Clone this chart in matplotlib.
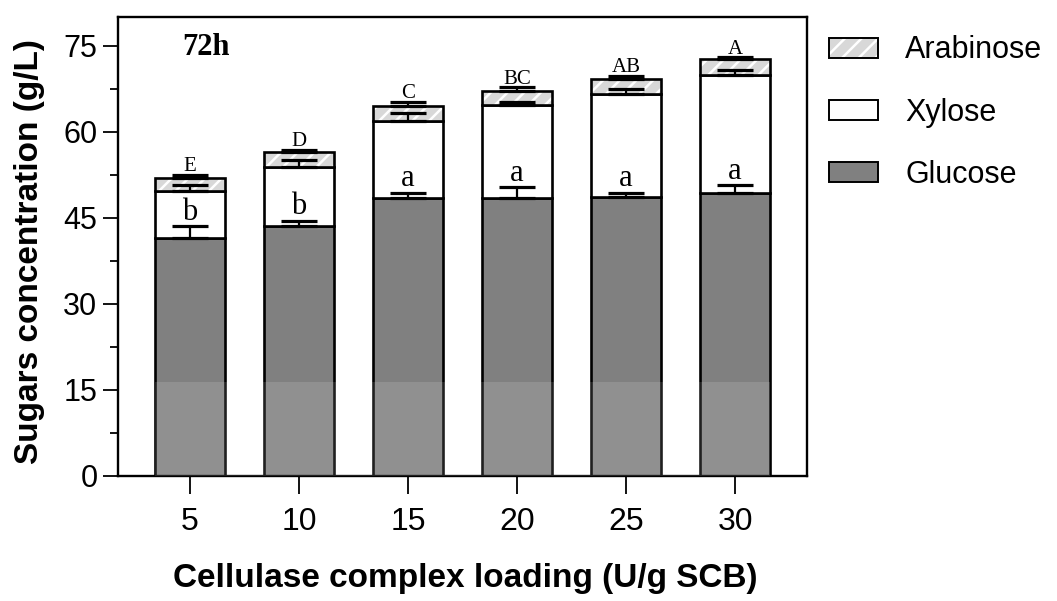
import numpy as np
import matplotlib
matplotlib.use("Agg")
import matplotlib.pyplot as plt
from matplotlib.patches import Patch, Rectangle
from matplotlib.ticker import MultipleLocator

# Cellulase loading (U/g SCB) and sugar yields at 72 h (g/L)
loadings = ["5", "10", "15", "20", "25", "30"]
glucose = [41.5, 43.6, 48.5, 48.5, 48.7, 49.4]
xylose = [8.2, 10.3, 13.4, 16.2, 17.9, 20.5]
arabinose = [2.3, 2.6, 2.6, 2.4, 2.6, 2.7]
glucose_err = [2.1, 0.9, 0.9, 1.9, 0.7, 1.3]
xylose_err = [1.0, 1.2, 1.4, 0.5, 0.9, 0.9]
arabinose_err = [0.5, 0.4, 0.7, 0.7, 0.6, 0.4]
glucose_letters = ["b", "b", "a", "a", "a", "a"]
total_letters = ["E", "D", "C", "BC", "AB", "A"]

serif = ["Liberation Serif", "DejaVu Serif"]
sans = ["Liberation Sans", "DejaVu Sans"]
plt.rcParams["font.family"] = sans
plt.rcParams["hatch.color"] = "white"
plt.rcParams["hatch.linewidth"] = 1.8

fig = plt.figure(figsize=(10.57, 6.01), dpi=100)
ax = fig.add_axes([0.1116, 0.208, 0.6519, 0.7637])

x = np.arange(len(loadings))
w = 0.64
g = np.array(glucose)
xy = np.array(xylose)
ar = np.array(arabinose)
lw = 1.9

ax.bar(x, g, w, color="#808080", edgecolor="black", linewidth=lw, zorder=2)
ax.bar(x, xy, w, bottom=g, color="white", edgecolor="black", linewidth=lw, zorder=2)
ax.bar(x, ar, w, bottom=g + xy, color="#d8d8d8", hatch="//", linewidth=0, zorder=2)
ax.bar(x, ar, w, bottom=g + xy, fill=False, edgecolor="black", linewidth=lw, zorder=2)

zeros = np.zeros(len(x))
for tops, err in [(g, glucose_err), (g + xy, xylose_err), (g + xy + ar, arabinose_err)]:
    ax.errorbar(x, tops, yerr=[zeros, err], fmt="none", ecolor="black",
                elinewidth=1.6, capsize=13, capthick=2.3, zorder=4)

for i in range(len(x)):
    ax.annotate(glucose_letters[i], (x[i], g[i] + glucose_err[i]),
                xytext=(0, 4.5), textcoords="offset points", ha="center",
                va="baseline", fontsize=22, family=serif, zorder=5)
    top = g[i] + xy[i] + ar[i] + arabinose_err[i]
    ax.annotate(total_letters[i], (x[i], top), xytext=(0, 2.5),
                textcoords="offset points", ha="center", va="baseline",
                fontsize=15, family=serif, zorder=5)

# faint light band left by the source image near the baseline
ax.add_patch(Rectangle((x[0] - w / 2, 0), x[-1] - x[0] + w, 16.4,
                       facecolor="white", alpha=0.13, linewidth=0, zorder=3))

ax.text(0.094, 0.917, "72h", transform=ax.transAxes, fontsize=22,
        fontweight="bold", family=serif, va="baseline")

ax.set_xlim(-0.66, 5.66)
ax.set_ylim(0, 80)
ax.set_xticks(x)
ax.set_xticklabels(loadings, fontsize=23)
ax.yaxis.set_major_locator(MultipleLocator(15))
ax.yaxis.set_minor_locator(MultipleLocator(7.5))
ax.tick_params(axis="y", which="major", length=10.8, width=1.3, labelsize=22, pad=4)
ax.tick_params(axis="y", which="minor", length=5.8, width=1.3)
ax.tick_params(axis="x", length=13, width=1.3, pad=9)
for s in ax.spines.values():
    s.set_linewidth(1.7)

ax.set_ylabel("Sugars concentration (g/L)", fontsize=24, fontweight="bold")
ax.yaxis.set_label_coords(-0.106, 0.488)
ax.set_xlabel("Cellulase complex loading (U/g SCB)", fontsize=24, fontweight="bold", va="top")
ax.xaxis.set_label_coords(0.504, -0.19)

# hatched swatch: white stripes on light grey, black outline on top
ara_fill = Patch(facecolor="#d8d8d8", hatch="//", edgecolor="white", linewidth=0)
ara_edge = Patch(fill=False, edgecolor="black", linewidth=1.4)
handles = [
    (ara_fill, ara_edge),
    Patch(facecolor="white", edgecolor="black", linewidth=1.4),
    Patch(facecolor="#808080", edgecolor="black", linewidth=1.4),
]
fig.legend(handles=handles, labels=["Arabinose", "Xylose", "Glucose"],
           loc="upper left", bbox_to_anchor=(0.784, 0.941),
           frameon=False, fontsize=22, handlelength=1.6, handleheight=0.65,
           handletextpad=0.9, labelspacing=1.05, borderpad=0, borderaxespad=0)

fig.savefig("out.png", dpi=100)
